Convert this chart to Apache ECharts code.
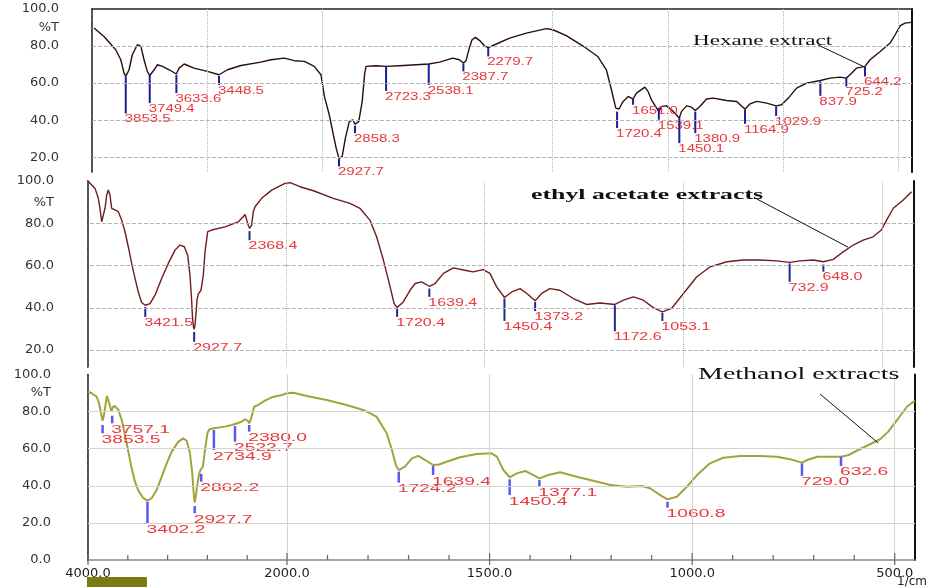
<!DOCTYPE html>
<html>
<head>
<meta charset="utf-8">
<script src="https://cdn.jsdelivr.net/npm/echarts@6/dist/echarts.min.js"></script>
<style>
  html, body { margin: 0; padding: 0; background: #fff; }
  #chart { width: 933px; height: 587px; }
</style>
</head>
<body>
<div id="chart"></div>
<script>
// [wavenumber (1/cm), transmittance (%T)]
const hexaneSpectrum = [
  [3991, 89.7], [3948, 85.2], [3897, 78.0], [3875, 72.6], [3861, 65.4], [3853.5, 63.6], [3839, 67.2],
  [3825, 75.3], [3803, 80.7], [3788, 79.8], [3774, 72.6], [3760, 66.3], [3749.4, 64.1], [3730, 67.2],
  [3716, 69.9], [3694, 69.0], [3665, 67.2], [3633.6, 64.9], [3622, 68.1], [3600, 70.3], [3557, 68.1],
  [3499, 66.3], [3448.5, 64.5], [3412, 67.2], [3353, 69.5], [3267, 71.3], [3223, 72.6], [3165, 73.5],
  [3122, 72.1], [3078, 71.7], [3035, 69.0], [3006, 64.5], [2999, 59.1], [2991, 52.8], [2970, 42.9],
  [2955, 33.8], [2940, 24.9], [2927.7, 19.3], [2914, 20.3], [2900, 30.3], [2883, 39.2], [2868, 40.2],
  [2858.3, 37.8], [2842, 39.2], [2827, 50.0], [2816, 65.4], [2810, 69.0], [2767, 69.4], [2723.3, 69.0],
  [2665, 69.4], [2593, 69.9], [2538.1, 70.3], [2491, 71.3], [2434, 73.5], [2405, 72.6], [2387.7, 70.8],
  [2376, 72.1], [2362, 78.9], [2350, 83.4], [2335, 84.7], [2313, 82.5], [2293, 79.8], [2279.7, 79.2],
  [2252, 80.7], [2187, 84.3], [2114, 87.0], [2027, 89.4], [1999, 88.8], [1941, 85.6], [1868, 80.0],
  [1803, 74.2], [1767, 67.2], [1745, 56.4], [1726, 46.5], [1720.4, 45.6], [1712, 46.0], [1694, 50.1],
  [1672, 52.8], [1651.0, 51.4], [1636, 54.6], [1600, 57.8], [1586, 55.5], [1571, 51.0], [1539.1, 44.6],
  [1527, 47.4], [1506, 47.7], [1484, 45.6], [1450.1, 41.1], [1441, 44.6], [1419, 47.7], [1397, 47.0],
  [1380.9, 45.2], [1361, 47.4], [1332, 51.4], [1303, 51.9], [1245, 50.6], [1201, 50.1], [1164.9, 45.9],
  [1143, 48.8], [1114, 50.1], [1071, 49.2], [1029.9, 47.7], [1006, 48.3], [977, 51.9], [941, 57.3],
  [897, 60.0], [837.9, 61.4], [796, 62.7], [752, 63.2], [725.2, 62.7], [709, 64.5], [680, 68.1],
  [644.2, 69.0], [622, 72.6], [578, 77.1], [535, 81.6], [513, 86.1], [491, 91.0], [470, 92.4], [445, 92.8]
];

const ethylSpectrum = [
  [4000, 100], [3997, 99.7], [3929, 96.5], [3896, 91.8], [3879, 87.1], [3862, 80.7], [3845, 80.7],
  [3828, 87.1], [3811, 93.4], [3795, 95.7], [3778, 93.4], [3761, 87.1], [3727, 86.3], [3694, 85.5],
  [3660, 81.5], [3626, 76.0], [3593, 68.9], [3559, 61.0], [3525, 53.9], [3492, 47.5], [3458, 42.5],
  [3421.5, 41.2], [3374, 42.0], [3323, 46.0], [3256, 53.9], [3189, 61.0], [3121, 67.3], [3071, 69.7],
  [3027, 68.9], [2993, 64.9], [2970, 55.5], [2955, 45.0], [2945, 36.0], [2935, 31.0], [2927.7, 29.8],
  [2918, 32.0], [2908, 38.0], [2898, 44.0], [2886, 46.5], [2859, 48.3], [2835, 55.5], [2818, 66.5],
  [2791, 76.0], [2751, 76.8], [2616, 78.3], [2482, 80.7], [2431, 83.1], [2414, 84.2], [2381, 79.1],
  [2368.4, 77.6], [2347, 79.1], [2330, 85.5], [2313, 87.8], [2246, 91.8], [2145, 95.7], [2010, 98.9],
  [2000, 99.0], [1990, 99.2], [1965, 97.3], [1931, 95.4], [1881, 91.8], [1839, 89.4], [1814, 87.1],
  [1789, 81.5], [1772, 73.6], [1755, 62.6], [1738, 49.9], [1728, 42.0], [1720.4, 40.1], [1705, 42.8],
  [1688, 48.3], [1675, 51.5], [1659, 52.3], [1639.4, 50.2], [1625, 51.5], [1604, 56.3], [1579, 58.9],
  [1550, 57.8], [1529, 57.0], [1504, 58.1], [1487, 56.3], [1470, 49.9], [1450.4, 44.9], [1432, 47.5],
  [1411, 49.1], [1394, 46.8], [1373.2, 43.3], [1357, 46.8], [1336, 49.1], [1311, 48.3], [1277, 44.4],
  [1244, 41.6], [1210, 42.3], [1172.6, 41.6], [1151, 43.6], [1126, 45.2], [1101, 43.6], [1076, 40.1],
  [1053.1, 38.1], [1030, 39.7], [1000, 46.8], [967, 54.6], [933, 59.4], [891, 61.8], [850, 62.6],
  [808, 62.6], [766, 62.2], [732.9, 61.5], [707, 62.2], [673, 62.6], [648.0, 61.8], [623, 62.9],
  [598, 66.5], [573, 69.7], [548, 72.0], [523, 73.6], [502, 76.8], [489, 81.5], [472, 87.1],
  [447, 91.0], [426, 94.9]
];

const methanolSpectrum = [
  [4000, 90.7], [3963, 89.9], [3913, 88.0], [3889, 84.5], [3869, 79.1], [3853.5, 75.0], [3836, 79.1],
  [3822, 84.5], [3809, 88.4], [3796, 88.0], [3782, 83.6], [3765, 80.0], [3750, 82.5], [3729, 83.0],
  [3695, 80.9], [3661, 75.5], [3628, 67.4], [3595, 58.4], [3561, 49.4], [3528, 42.2], [3494, 37.4],
  [3444, 33.3], [3402.2, 32.0], [3360, 33.3], [3310, 37.7], [3259, 44.9], [3209, 52.1], [3159, 58.4],
  [3092, 63.8], [3042, 65.6], [3008, 64.3], [2975, 57.5], [2952, 46.7], [2938, 36.0], [2927.7, 30.9],
  [2912, 36.0], [2898, 42.0], [2884, 46.0], [2870, 48.5], [2862.2, 47.6], [2845, 50.3], [2820, 61.1],
  [2800, 68.3], [2780, 70.5], [2734.9, 71.0], [2623, 71.9], [2556, 72.8], [2522.7, 73.3], [2456, 74.5],
  [2422, 75.8], [2395, 75.1], [2380.0, 73.7], [2360, 76.4], [2330, 82.6], [2289, 83.6], [2221, 85.9],
  [2154, 87.7], [2053, 88.9], [2000, 89.9], [1984, 90.2], [1951, 88.4], [1902, 86.3], [1853, 83.6],
  [1812, 80.9], [1779, 77.3], [1754, 68.3], [1741, 59.3], [1731, 51.0], [1724.2, 48.5], [1709, 50.3],
  [1692, 54.8], [1676, 56.1], [1659, 53.9], [1639.4, 51.2], [1625, 51.5], [1606, 53.0], [1573, 55.4],
  [1532, 57.1], [1495, 57.5], [1482, 55.7], [1466, 48.5], [1450.4, 44.6], [1433, 46.7], [1412, 48.0],
  [1392, 45.8], [1377.1, 44.0], [1355, 45.8], [1326, 47.3], [1285, 44.9], [1244, 42.7], [1202, 40.4],
  [1161, 39.5], [1124, 39.9], [1104, 38.7], [1079, 35.0], [1060.8, 32.7], [1038, 34.1], [1013, 39.5],
  [988, 45.8], [956, 52.1], [923, 55.1], [881, 56.1], [832, 56.1], [791, 55.7], [758, 54.3],
  [729.0, 52.5], [716, 53.9], [691, 55.7], [663, 55.7], [632.6, 55.7], [614, 56.6], [590, 59.3],
  [565, 62.0], [536, 65.1], [516, 69.2], [491, 76.4], [470, 82.6], [454, 85.3], [450, 85.8]
];

// peak marks: [wavenumber, %T where the tick starts, %T where the tick ends]
const hexanePeaks = [
  [3853.5, 63.5, 43.6], [3749.4, 64.4, 49.2], [3633.6, 64.4, 54.6], [3448.5, 63.9, 59.0],
  [2927.7, 19.0, 15.0], [2858.3, 37.0, 33.0], [2723.3, 69.0, 55.8], [2538.1, 70.3, 59.0],
  [2387.7, 70.6, 66.3], [2279.7, 78.9, 74.4], [1720.4, 44.6, 35.7], [1651.0, 51.4, 48.3],
  [1539.1, 46.5, 40.2], [1450.1, 41.1, 27.6], [1380.9, 44.6, 33.0], [1164.9, 45.6, 38.0],
  [1029.9, 47.4, 42.3], [837.9, 60.9, 53.1], [725.2, 63.2, 58.2], [644.2, 69.0, 63.6]
];
const ethylPeaks = [
  [3421.5, 40.4, 35.7], [2927.7, 28.6, 23.9], [2368.4, 76.3, 72.0], [1720.4, 39.7, 35.7],
  [1639.4, 49.1, 45.2], [1450.4, 44.4, 33.8], [1373.2, 42.8, 38.5], [1172.6, 41.2, 28.9],
  [1053.1, 37.6, 33.8], [732.9, 61.0, 52.3], [648.0, 60.5, 57.1]
];
const methanolPeaks = [
  [3853.5, 72.8, 68.3], [3757.1, 77.8, 73.7], [3402.2, 31.4, 19.8], [2927.7, 29.1, 25.2],
  [2862.2, 46.4, 42.2], [2734.9, 70.1, 59.3], [2522.7, 72.2, 63.8], [2380.0, 72.8, 69.2],
  [1724.2, 47.6, 41.7], [1639.4, 50.7, 45.8], [1450.4, 43.5, 35.0], [1377.1, 43.1, 39.5],
  [1060.8, 31.4, 28.2], [729.0, 52.1, 45.3], [632.6, 55.7, 50.7]
];

// axis ticks and labels
const yLabelValues = [20, 40, 60, 80, 100];
const yUnitAt = 90;                       // where "%T" sits
const yTickStep = 4;
const hexaneGridX = [3500, 3000, 2000, 1500, 1000, 500];
const splitGridX = [2000, 1500, 1000, 500];
const gridY = [80, 60, 40, 20];
const bottomTicksLeft = [4000, 3600, 3200, 2800, 2400, 2000];
const bottomTicksRight = [1900, 1800, 1700, 1600, 1500, 1400, 1300, 1200, 1100, 1000, 900, 800, 700, 600, 500];
const bottomLabelsLeft = [4000, 2000];
const bottomLabelsRight = [1500, 1000, 500];

const annotations = [
  { text: 'Hexane extract', series: 0, at: [648, 68.8] },
  { text: 'ethyl acetate extracts', series: 3, at: [586, 68.7] },
  { text: 'Methanol extracts', series: 7, at: [541, 63.1] }
];

// plot areas and their wavenumber / %T ranges
const grids = [
  { left: 92, top: 9, width: 820, height: 163 },
  { left: 88, top: 181, width: 198, height: 186 },
  { left: 286, top: 181, width: 628, height: 186 },
  { left: 88, top: 374.5, width: 199, height: 185.5 },
  { left: 287, top: 374.5, width: 628, height: 185.5 }
];
const xRanges = [[440, 4000], [2000, 4000], [420, 2000], [2000, 4000], [450, 2000]];
const yMins = [12, 12, 12, 0, 0];

const chart = echarts.init(document.getElementById('chart'));

function yTickValues(min) {
  const out = [];
  for (let v = min; v <= 100; v += yTickStep) out.push(v);
  return out;
}

function leftYAxis(gridIndex, margin) {
  const min = yMins[gridIndex];
  return {
    type: 'value', gridIndex, min, max: 100, position: 'left',
    axisLine: { show: true, lineStyle: { color: '#222', width: 1.5 } },
    axisTick: { show: false },
    axisLabel: {
      customValues: (min === 0 ? [0] : []).concat(yLabelValues, [yUnitAt]),
      formatter: v => (v === yUnitAt ? '%T' : v.toFixed(1)),
      margin, color: '#333', fontSize: 13, fontFamily: 'DejaVu Sans'
    },
    splitLine: { show: false }
  };
}

function borderYAxis(gridIndex) {
  return {
    type: 'value', gridIndex, min: yMins[gridIndex], max: 100, position: 'right',
    axisLine: { show: true, lineStyle: { color: '#111', width: 2 } },
    axisTick: { show: false }, axisLabel: { show: false }, splitLine: { show: false }
  };
}

function hiddenXAxis(gridIndex) {
  return { type: 'value', gridIndex, min: xRanges[gridIndex][0], max: xRanges[gridIndex][1], inverse: true, show: false };
}

function bottomXAxis(gridIndex, labels) {
  return {
    type: 'value', gridIndex, min: xRanges[gridIndex][0], max: xRanges[gridIndex][1],
    inverse: true, position: 'bottom',
    axisLine: { show: true, lineStyle: { color: '#888', width: 1.5 } },
    axisTick: { show: false },
    axisLabel: { customValues: labels, formatter: v => v.toFixed(1), margin: 7,
                 color: '#222', fontSize: 13, fontFamily: 'DejaVu Sans' },
    splitLine: { show: false }
  };
}

function guideLines(xs, ys, color, xType, yType) {
  return {
    silent: true, symbol: ['none', 'none'], animation: false,
    label: { show: false }, emphasis: { disabled: true },
    data: xs.map(v => ({ xAxis: v, lineStyle: { color, type: xType, width: 1 } }))
      .concat(ys.map(v => ({ yAxis: v, lineStyle: { color, type: yType, width: 1 } })))
  };
}

function curve(data, xi, yi, color, width, marks) {
  return {
    type: 'line', xAxisIndex: xi, yAxisIndex: yi, data, symbol: 'none',
    lineStyle: { color, width }, silent: true, z: 3, markLine: marks
  };
}

function peakMarks(peaks, xi, yi, style) {
  return {
    type: 'custom', xAxisIndex: xi, yAxisIndex: yi, data: peaks, silent: true, z: 4,
    renderItem(params, api) {
      const wn = api.value(0);
      const p1 = api.coord([wn, api.value(1)]);
      const p2 = api.coord([wn, api.value(2)]);
      return {
        type: 'group',
        children: [
          { type: 'line', shape: { x1: p1[0], y1: p1[1], x2: p2[0], y2: p2[1] },
            style: { stroke: style.tick, lineWidth: style.tickWidth } },
          { type: 'text', x: p2[0] - 1, y: p2[1] + 1, scaleX: style.stretch,
            style: { text: wn.toFixed(1), fill: '#e8383d', align: 'left', verticalAlign: 'top',
                     font: style.fontSize + 'px "Liberation Sans", Arial, sans-serif' } }
        ]
      };
    }
  };
}

// axis tick marks as short line pieces; a pixel length is turned into axis units
// from the plot area size, so every piece is placed by the axis scales
function yTickLines(gridIndex, xi, yi) {
  const [xMin, xMax] = xRanges[gridIndex];
  const unitsPerPx = (xMax - xMin) / grids[gridIndex].width;
  const data = [];
  yTickValues(yMins[gridIndex]).forEach(v => {
    const len = v % 20 === 0 ? 17 : 9;
    data.push([xMax + len * unitsPerPx, v], [xMax, v], ['-', '-']);
  });
  return {
    type: 'line', xAxisIndex: xi, yAxisIndex: yi, data, symbol: 'none', clip: false,
    connectNulls: false, silent: true, z: 6, lineStyle: { color: '#333', width: 1 }
  };
}

function xTickLines(gridIndex, xi, yi, ticks, labels) {
  const yMin = yMins[gridIndex];
  const unitsPerPx = (100 - yMin) / grids[gridIndex].height;
  const data = [];
  ticks.forEach(v => {
    const major = labels.indexOf(v) >= 0;
    data.push([v, yMin - (major ? 5 : 0) * unitsPerPx], [v, yMin + (major ? 7 : 5) * unitsPerPx], ['-', '-']);
  });
  return {
    type: 'line', xAxisIndex: xi, yAxisIndex: yi, data, symbol: 'none', clip: false,
    connectNulls: false, silent: true, z: 6, lineStyle: { color: '#666', width: 1.2 }
  };
}

const hexaneColor = '#2a0d0d';
const ethylColor = '#6e1c1c';
const methanolColor = '#a3a33c';
const topTicks = { tick: '#1c1c96', tickWidth: 2, fontSize: 10, stretch: 1.5 };
const midTicks = { tick: '#1f2a8a', tickWidth: 2, fontSize: 10, stretch: 1.6 };
const botTicks = { tick: '#5a5af0', tickWidth: 2.5, fontSize: 11, stretch: 1.75 };

const ethylLeft = ethylSpectrum.filter(p => p[0] >= 2000);
const ethylRight = ethylSpectrum.filter(p => p[0] <= 2000);
const methanolLeft = methanolSpectrum.filter(p => p[0] >= 2000);
const methanolRight = methanolSpectrum.filter(p => p[0] <= 2000);

chart.setOption({
  animation: false,
  backgroundColor: '#fff',
  grid: grids,
  xAxis: [
    {
      type: 'value', gridIndex: 0, min: xRanges[0][0], max: xRanges[0][1], inverse: true, position: 'top',
      axisLine: { show: true, lineStyle: { color: '#222', width: 1.5 } },
      axisTick: { show: false }, axisLabel: { show: false }, splitLine: { show: false }
    },
    hiddenXAxis(1),
    hiddenXAxis(2),
    bottomXAxis(3, bottomLabelsLeft),
    bottomXAxis(4, bottomLabelsRight)
  ],
  yAxis: [
    leftYAxis(0, 33),
    borderYAxis(0),
    leftYAxis(1, 34),
    borderYAxis(2),
    leftYAxis(3, 37),
    borderYAxis(4)
  ],
  series: [
    curve(hexaneSpectrum, 0, 0, hexaneColor, 1.4, guideLines(hexaneGridX, gridY, '#b4b4b4', 'dotted', 'dashed')),
    peakMarks(hexanePeaks, 0, 0, topTicks),
    curve(ethylLeft, 1, 2, ethylColor, 1.4, guideLines([], gridY, '#b4b4b4', 'dotted', 'dashed')),
    curve(ethylRight, 2, 3, ethylColor, 1.4, guideLines(splitGridX, gridY, '#b4b4b4', 'dotted', 'dashed')),
    peakMarks(ethylPeaks.filter(p => p[0] >= 2000), 1, 2, midTicks),
    peakMarks(ethylPeaks.filter(p => p[0] < 2000), 2, 3, midTicks),
    curve(methanolLeft, 3, 4, methanolColor, 2, guideLines([], gridY, '#d4d4d4', 'solid', 'solid')),
    curve(methanolRight, 4, 5, methanolColor, 2, guideLines(splitGridX, gridY, '#d4d4d4', 'solid', 'solid')),
    peakMarks(methanolPeaks.filter(p => p[0] >= 2000), 3, 4, botTicks),
    peakMarks(methanolPeaks.filter(p => p[0] < 2000), 4, 5, botTicks),
    yTickLines(0, 0, 0),
    yTickLines(1, 1, 2),
    yTickLines(3, 3, 4),
    xTickLines(3, 3, 4, bottomTicksLeft, bottomLabelsLeft),
    xTickLines(4, 4, 5, bottomTicksRight, bottomLabelsRight)
  ]
});

// captions with leader lines pointing at the curves
const captionStyle = [
  { x: 693, y: 41, font: '14px "Liberation Serif", serif', stretch: 1.65, from: [818, 45] },
  { x: 531, y: 195, font: 'bold 15px "Liberation Serif", serif', stretch: 1.72, from: [755, 198] },
  { x: 698, y: 375, font: '16px "Liberation Serif", serif', stretch: 1.75, from: [820, 394] }
];
const graphic = [];
annotations.forEach((a, i) => {
  const s = captionStyle[i];
  const end = chart.convertToPixel({ seriesIndex: a.series }, a.at);
  graphic.push({
    type: 'text', x: s.x, y: s.y, scaleX: s.stretch, z: 10, silent: true,
    style: { text: a.text, font: s.font, fill: '#111', align: 'left', verticalAlign: 'middle' }
  });
  graphic.push({
    type: 'line', z: 10, silent: true,
    shape: { x1: s.from[0], y1: s.from[1], x2: end[0], y2: end[1] },
    style: { stroke: '#111', lineWidth: 1 }
  });
});
graphic.push({
  type: 'text', x: 912, y: 582, silent: true,
  style: { text: '1/cm', font: '12px "DejaVu Sans", sans-serif', fill: '#222', align: 'center', verticalAlign: 'middle' }
});
graphic.push({
  type: 'rect', silent: true, shape: { x: 87, y: 577, width: 60, height: 10 },
  style: { fill: '#7b7b10' }
});
chart.setOption({ graphic });
</script>
</body>
</html>
